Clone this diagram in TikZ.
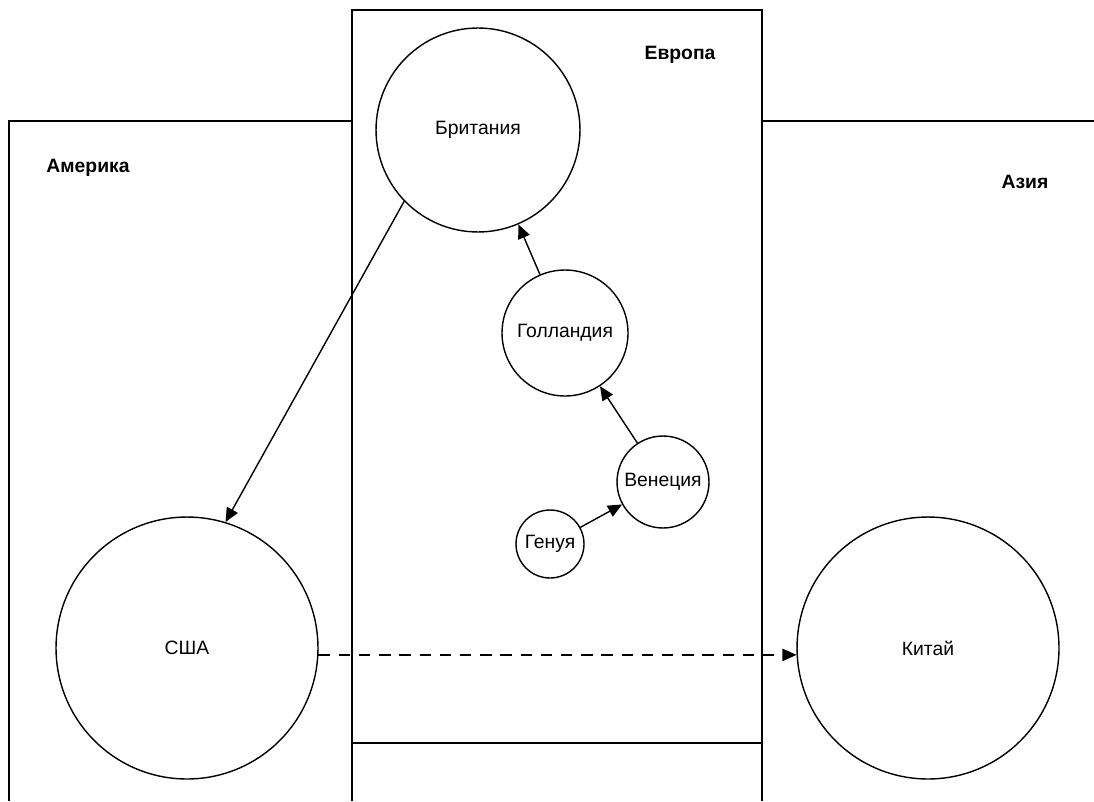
\documentclass[tikz,border=0pt]{standalone}
\usepackage{fontspec}
\setmainfont{Liberation Sans}
\usepackage{tikz}
\usetikzlibrary{arrows.meta}

\tikzset{
  country/.style={draw, circle, thick, inner sep=0pt, font=\fontsize{11}{13}\selectfont},
  region/.style={font=\fontsize{11}{13}\selectfont\bfseries},
  flow/.style={thick, -{Triangle[length=8pt,width=7pt]}}
}

\begin{document}
\begin{tikzpicture}[x=0.02cm, y=-0.02cm]
\useasboundingbox (0,0) rectangle (1094,801);

% Regions
\draw[thick] (9,801) -- (9,121) -- (352,121);
\draw[thick] (352,801) -- (352,10) -- (762,10) -- (762,801);
\draw[thick] (352,743) -- (762,743);
\draw[thick] (762,121) -- (1094,121);
\node[region] (america) at (88,168) {Америка};
\node[region] (europe) at (680,55) {Европа};
\node[region] (asia) at (1025,182) {Азия};

% Countries
\node[country, minimum size=4.08cm] (brit) at (478,130) {Британия};
\node[country, minimum size=2.52cm] (holl) at (565,333) {Голландия};
\node[country, minimum size=1.84cm] (venice) at (663,482) {Венеция};
\node[country, minimum size=1.36cm] (genoa) at (550,544) {Генуя};
\node[country, minimum size=5.24cm] (usa) at (187,648) {США};
\node[country, minimum size=5.24cm] (china) at (928,648) {Китай};

% Moves of the centre
\draw[flow] (genoa) -- (venice);
\draw[flow] (venice) -- (holl);
\draw[flow] (holl) -- (brit);
\draw[flow] (brit.224) -- (usa.73);
\draw[flow, dash pattern=on 6.5pt off 5pt] (usa.-3) -- (china.183);
\end{tikzpicture}
\end{document}
